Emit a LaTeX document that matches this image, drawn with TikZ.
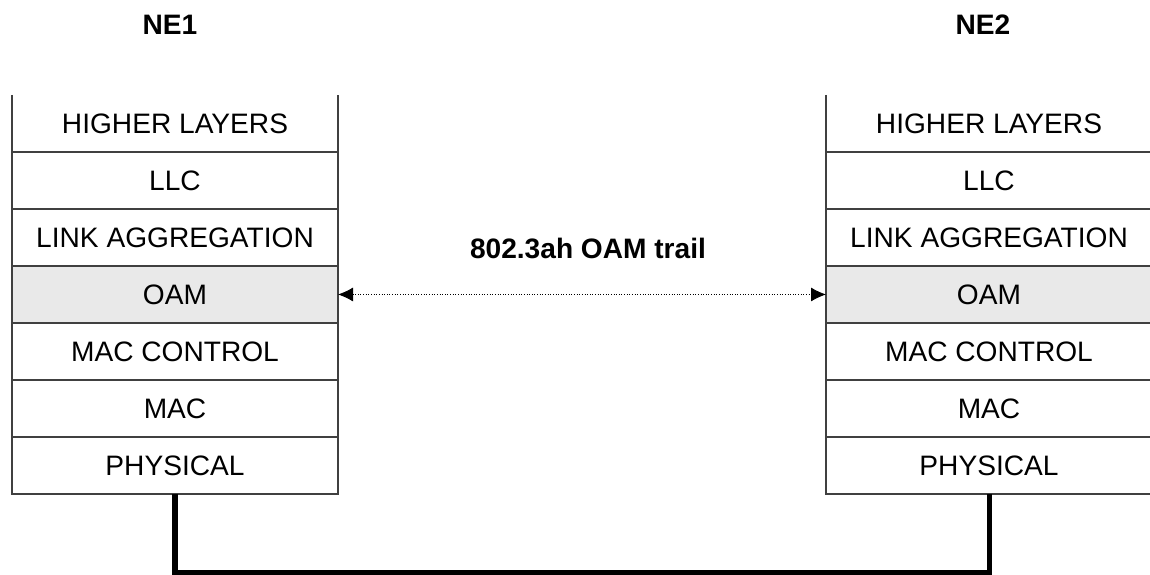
\documentclass[tikz,border=0pt]{standalone}
\usepackage{fontspec}
\setmainfont{Liberation Sans}
\usetikzlibrary{positioning}
\usetikzlibrary{arrows.meta}
\definecolor{oamgray}{HTML}{E9E9E9}
\tikzset{
    layer/.style={
        font=\fontsize{16}{19}\selectfont,
        minimum width=6.52cm,
        minimum height=1.14cm,
        inner sep=0pt,
        outer sep=0pt,
        fill=white
    },
    stackline/.style={
        draw=black!75,
        line width=0.85pt
    },
    title/.style={
        font=\fontsize{16}{19}\selectfont\bfseries
    }
}

\begin{document}
\begin{tikzpicture}
\useasboundingbox (0,0) rectangle (23,11.5);
% NE1
\node[layer] (l1) at (3.5,9.03) {HIGHER LAYERS};
\node[layer,below=0pt of l1] (l2) {LLC};
\node[layer,below=0pt of l2] (l3) {LINK AGGREGATION};
\node[layer,below=0pt of l3,fill=oamgray] (l4) {OAM};
\node[layer,below=0pt of l4] (l5) {MAC CONTROL};
\node[layer,below=0pt of l5] (l6) {MAC};
\node[layer,below=0pt of l6] (l7) {PHYSICAL};
% NE2
\node[layer] (r1) at (19.78,9.03) {HIGHER LAYERS};
\node[layer,below=0pt of r1] (r2) {LLC};
\node[layer,below=0pt of r2] (r3) {LINK AGGREGATION};
\node[layer,below=0pt of r3,fill=oamgray] (r4) {OAM};
\node[layer,below=0pt of r4] (r5) {MAC CONTROL};
\node[layer,below=0pt of r5] (r6) {MAC};
\node[layer,below=0pt of r6] (r7) {PHYSICAL};
% stack borders, open at the top
\foreach \s in {l,r}{
    \draw[stackline] (\s1.north west) -- (\s7.south west) -- (\s7.south east) -- (\s1.north east);
    \foreach \i in {1,...,6}
        \draw[stackline] (\s\i.south west) -- (\s\i.south east);
}
\node[title] (ne1) at (3.4,11.0) {NE1};
\node[title] (ne2) at (19.66,11.0) {NE2};
% OAM trail
\draw[densely dotted,line width=0.5pt,{Latex[length=0.3cm,width=0.28cm]}-{Latex[length=0.3cm,width=0.28cm]}] (l4.east) -- (r4.west);
\node[title] (trail) at (11.76,6.54) {802.3ah OAM trail};
% physical link
\coordinate (linkl) at (3.5,0.05);
\coordinate (linkr) at (19.78,0.05);
\draw[line width=2.85pt] (l7.south) -- (linkl) -- (linkr) -- (r7.south);
\end{tikzpicture}
\end{document}
